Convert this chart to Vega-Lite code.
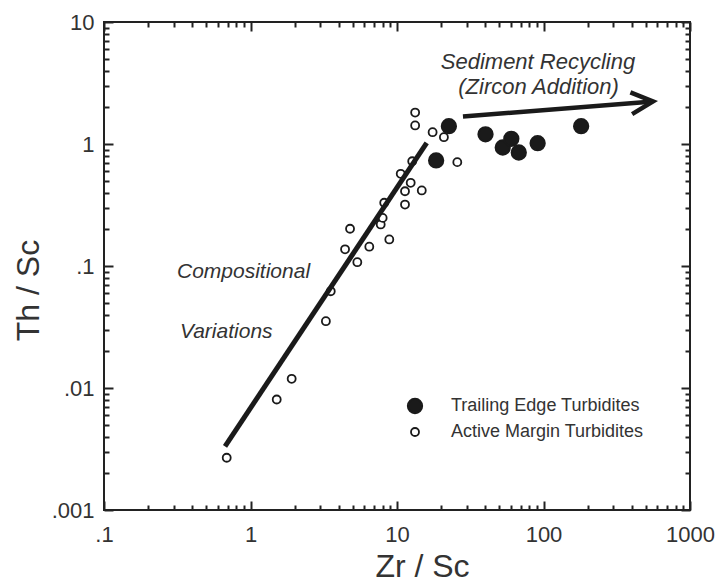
{
  "$schema": "https://vega.github.io/schema/vega-lite/v6.json",
  "width": 586,
  "height": 488,
  "autosize": "none",
  "padding": {"left": 104, "top": 22, "right": 36, "bottom": 73},
  "background": "white",
  "config": {
    "view": {"stroke": "#222", "strokeWidth": 2},
    "font": "Liberation Sans",
    "axis": {
      "grid": false,
      "domain": false,
      "tickColor": "#222",
      "tickWidth": 2,
      "labelFont": "Liberation Sans",
      "labelFontSize": 22,
      "labelColor": "#333",
      "labelOverlap": false,
      "labelFlush": false,
      "titleFont": "Liberation Sans",
      "titleFontWeight": "normal",
      "titleColor": "#333",
      "titleFontSize": 32
    }
  },
  "datasets": {
    "samples": [
      {"zr": 0.688, "th": 0.00268, "type": "Active Margin Turbidites"},
      {"zr": 1.51, "th": 0.00805, "type": "Active Margin Turbidites"},
      {"zr": 1.91, "th": 0.0119, "type": "Active Margin Turbidites"},
      {"zr": 3.27, "th": 0.0353, "type": "Active Margin Turbidites"},
      {"zr": 3.53, "th": 0.0621, "type": "Active Margin Turbidites"},
      {"zr": 4.42, "th": 0.137, "type": "Active Margin Turbidites"},
      {"zr": 4.78, "th": 0.202, "type": "Active Margin Turbidites"},
      {"zr": 5.36, "th": 0.1075, "type": "Active Margin Turbidites"},
      {"zr": 6.47, "th": 0.144, "type": "Active Margin Turbidites"},
      {"zr": 7.74, "th": 0.219, "type": "Active Margin Turbidites"},
      {"zr": 7.98, "th": 0.248, "type": "Active Margin Turbidites"},
      {"zr": 8.18, "th": 0.33, "type": "Active Margin Turbidites"},
      {"zr": 8.86, "th": 0.165, "type": "Active Margin Turbidites"},
      {"zr": 11.34, "th": 0.319, "type": "Active Margin Turbidites"},
      {"zr": 11.34, "th": 0.41, "type": "Active Margin Turbidites"},
      {"zr": 14.76, "th": 0.416, "type": "Active Margin Turbidites"},
      {"zr": 12.4, "th": 0.481, "type": "Active Margin Turbidites"},
      {"zr": 10.6, "th": 0.57, "type": "Active Margin Turbidites"},
      {"zr": 12.7, "th": 0.722, "type": "Active Margin Turbidites"},
      {"zr": 13.3, "th": 1.81, "type": "Active Margin Turbidites"},
      {"zr": 13.3, "th": 1.42, "type": "Active Margin Turbidites"},
      {"zr": 17.5, "th": 1.25, "type": "Active Margin Turbidites"},
      {"zr": 20.9, "th": 1.137, "type": "Active Margin Turbidites"},
      {"zr": 25.8, "th": 0.71, "type": "Active Margin Turbidites"},
      {"zr": 22.6, "th": 1.4, "type": "Trailing Edge Turbidites"},
      {"zr": 18.5, "th": 0.733, "type": "Trailing Edge Turbidites"},
      {"zr": 40.2, "th": 1.2, "type": "Trailing Edge Turbidites"},
      {"zr": 52.7, "th": 0.936, "type": "Trailing Edge Turbidites"},
      {"zr": 60.3, "th": 1.103, "type": "Trailing Edge Turbidites"},
      {"zr": 67.8, "th": 0.852, "type": "Trailing Edge Turbidites"},
      {"zr": 91.2, "th": 1.015, "type": "Trailing Edge Turbidites"},
      {"zr": 180.7, "th": 1.4, "type": "Trailing Edge Turbidites"}
    ],
    "trend": [{"zr": 0.67, "th": 0.00333}, {"zr": 15.95, "th": 1.02}],
    "arrow": [{"zr": 28.2, "th": 1.68}, {"zr": 559, "th": 2.23}],
    "tip": [{"zr": 559, "th": 2.23}],
    "leftNotes": [
      {"zr": 0.315, "th": 0.0885, "label": "Compositional"},
      {"zr": 0.33, "th": 0.029, "label": "Variations"}
    ],
    "centerNotes": [
      {"zr": 91.7, "th": 4.74, "label": "Sediment Recycling"},
      {"zr": 92.5, "th": 2.96, "label": "(Zircon Addition)"}
    ]
  },
  "layer": [
    {
      "data": {"name": "samples"},
      "mark": {"type": "point", "shape": "circle", "filled": true, "strokeWidth": 1.8, "opacity": 1},
      "encoding": {
        "x": {
          "field": "zr", "type": "quantitative",
          "scale": {"type": "log", "domain": [0.1, 1000], "nice": false},
          "axis": {
            "orient": "bottom",
            "title": "Zr / Sc",
            "titleX": 318, "titleY": 56, "titleAlign": "center", "titleBaseline": "middle", "titleAnchor": null,
            "values": [0.1, 1, 10, 100, 1000],
            "ticks": false,
            "labelPadding": 14,
            "labelExpr": "datum.value == 0.1 ? '.1' : datum.value == 1 ? '1' : datum.value == 10 ? '10' : datum.value == 100 ? '100' : '1000'"
          }
        },
        "y": {
          "field": "th", "type": "quantitative",
          "scale": {"type": "log", "domain": [0.001, 10], "nice": false},
          "axis": {
            "orient": "left",
            "title": "Th / Sc",
            "titleX": -76, "titleY": 268, "titleAlign": "center", "titleBaseline": "middle", "titleAngle": 270, "titleAnchor": null,
            "values": [0.001, 0.01, 0.1, 1, 10],
            "ticks": false,
            "labelPadding": 10,
            "labelExpr": "datum.value == 0.001 ? '.001' : datum.value == 0.01 ? '.01' : datum.value == 0.1 ? '.1' : datum.value == 1 ? '1' : '10'"
          }
        },
        "fill": {
          "field": "type", "type": "nominal",
          "scale": {"domain": ["Trailing Edge Turbidites", "Active Margin Turbidites"], "range": ["#1a1a1a", "white"]},
          "legend": {
            "title": null, "orient": "none", "legendX": 302, "legendY": 375,
            "labelFont": "Liberation Sans", "labelFontSize": 18, "labelColor": "#333", "labelLimit": 0,
            "labelOffset": 27, "rowPadding": 6, "symbolStrokeWidth": 1.8, "symbolType": "circle"
          }
        },
        "stroke": {
          "field": "type", "type": "nominal",
          "scale": {"domain": ["Trailing Edge Turbidites", "Active Margin Turbidites"], "range": ["#1a1a1a", "#1a1a1a"]},
          "legend": {
            "title": null, "orient": "none", "legendX": 302, "legendY": 375,
            "labelFont": "Liberation Sans", "labelFontSize": 18, "labelColor": "#333", "labelLimit": 0,
            "labelOffset": 27, "rowPadding": 6, "symbolStrokeWidth": 1.8, "symbolType": "circle"
          }
        },
        "size": {
          "field": "type", "type": "nominal",
          "scale": {"domain": ["Trailing Edge Turbidites", "Active Margin Turbidites"], "range": [210, 64]},
          "legend": {
            "title": null, "orient": "none", "legendX": 302, "legendY": 375,
            "labelFont": "Liberation Sans", "labelFontSize": 18, "labelColor": "#333", "labelLimit": 0,
            "labelOffset": 27, "rowPadding": 6, "symbolStrokeWidth": 1.8, "symbolType": "circle"
          }
        }
      }
    },
    {
      "data": {"name": "trend"},
      "mark": {"type": "line", "color": "#1a1a1a", "strokeWidth": 5, "strokeCap": "butt"},
      "encoding": {
        "x": {
          "field": "zr", "type": "quantitative",
          "axis": {"orient": "top", "offset": -488, "title": null, "labels": false, "tickSize": 9,
                   "values": [0.1, 1, 10, 100, 1000]}
        },
        "y": {
          "field": "th", "type": "quantitative",
          "axis": {"orient": "right", "offset": -586, "title": null, "labels": false, "tickSize": 9,
                   "values": [0.001, 0.01, 0.1, 1, 10]}
        }
      }
    },
    {
      "data": {"name": "arrow"},
      "mark": {"type": "line", "color": "#1a1a1a", "strokeWidth": 4.5, "strokeCap": "butt"},
      "encoding": {
        "x": {
          "field": "zr", "type": "quantitative",
          "axis": {"orient": "top", "offset": -488, "title": null, "labels": false, "tickSize": 5,
                   "values": [0.2,0.3,0.4,0.5,0.6,0.7,0.8,0.9,2,3,4,5,6,7,8,9,20,30,40,50,60,70,80,90,200,300,400,500,600,700,800,900]}
        },
        "y": {
          "field": "th", "type": "quantitative",
          "axis": {"orient": "right", "offset": -586, "title": null, "labels": false, "tickSize": 5,
                   "values": [0.002,0.003,0.004,0.005,0.006,0.007,0.008,0.009,0.02,0.03,0.04,0.05,0.06,0.07,0.08,0.09,0.2,0.3,0.4,0.5,0.6,0.7,0.8,0.9,2,3,4,5,6,7,8,9]}
        }
      }
    },
    {
      "data": {"name": "tip"},
      "mark": {"type": "point", "shape": "M-1,-0.5L0,0L-1,0.5", "filled": false, "stroke": "#1a1a1a", "strokeWidth": 4.5, "strokeJoin": "miter", "size": 1900, "angle": -4.5, "opacity": 1},
      "encoding": {
        "x": {
          "field": "zr", "type": "quantitative",
          "axis": {"orient": "bottom", "offset": -488, "title": null, "labels": false, "tickSize": 9,
                   "values": [0.1, 1, 10, 100, 1000]}
        },
        "y": {
          "field": "th", "type": "quantitative",
          "axis": {"orient": "left", "offset": -586, "title": null, "labels": false, "tickSize": 9,
                   "values": [0.001, 0.01, 0.1, 1, 10]}
        }
      }
    },
    {
      "data": {"name": "leftNotes"},
      "mark": {"type": "text", "align": "left", "baseline": "middle", "font": "Liberation Sans", "fontStyle": "italic", "fontSize": 21, "color": "#333"},
      "encoding": {
        "x": {
          "field": "zr", "type": "quantitative",
          "axis": {"orient": "bottom", "offset": -488, "title": null, "labels": false, "tickSize": 5,
                   "values": [0.2,0.3,0.4,0.5,0.6,0.7,0.8,0.9,2,3,4,5,6,7,8,9,20,30,40,50,60,70,80,90,200,300,400,500,600,700,800,900]}
        },
        "y": {
          "field": "th", "type": "quantitative",
          "axis": {"orient": "left", "offset": -586, "title": null, "labels": false, "tickSize": 5,
                   "values": [0.002,0.003,0.004,0.005,0.006,0.007,0.008,0.009,0.02,0.03,0.04,0.05,0.06,0.07,0.08,0.09,0.2,0.3,0.4,0.5,0.6,0.7,0.8,0.9,2,3,4,5,6,7,8,9]}
        },
        "text": {"field": "label"}
      }
    },
    {
      "data": {"name": "centerNotes"},
      "mark": {"type": "text", "align": "center", "baseline": "middle", "font": "Liberation Sans", "fontStyle": "italic", "fontSize": 22, "color": "#333"},
      "encoding": {
        "x": {"field": "zr", "type": "quantitative", "axis": null},
        "y": {"field": "th", "type": "quantitative", "axis": null},
        "text": {"field": "label"}
      }
    }
  ]
}
